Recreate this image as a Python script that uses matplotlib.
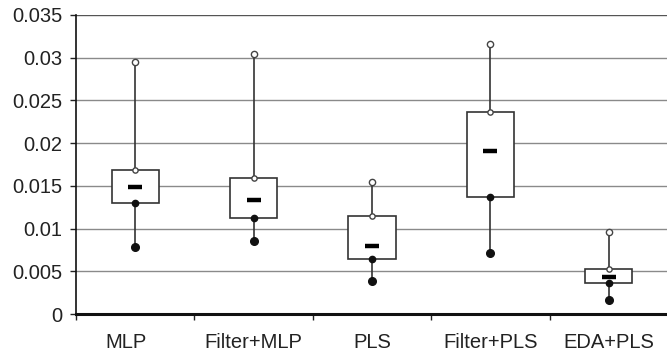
import matplotlib
matplotlib.use("Agg")
import matplotlib.pyplot as plt
import matplotlib.transforms as mtransforms
import numpy as np

categories = ["MLP", "Filter+MLP", "PLS", "Filter+PLS", "EDA+PLS"]
maxima = [0.0295, 0.0304, 0.0155, 0.0316, 0.0096]
q3 = [0.0169, 0.0159, 0.0115, 0.0236, 0.0053]
medians = [0.0149, 0.0133, 0.0080, 0.0191, 0.0043]
q1 = [0.0130, 0.0112, 0.0064, 0.0137, 0.0036]
minima = [0.0078, 0.0086, 0.0039, 0.0071, 0.0016]
yticks = [0, 0.005, 0.01, 0.015, 0.02, 0.025, 0.03, 0.035]
ytick_labels = ["0", "0.005", "0.01", "0.015", "0.02", "0.025", "0.03", "0.035"]

plt.rcParams['font.family'] = ['Liberation Sans', 'DejaVu Sans']

fig = plt.figure(figsize=(6.67, 3.59), dpi=100)
ax = fig.add_axes([76/667, 45/359, 592/667, 299/359])

positions = np.arange(len(categories))

# gridlines
for t in yticks[1:]:
    ax.axhline(t, color="#8a8a8a" if t < 0.035 else "#555555", lw=1.0, zorder=1)

stats = []
for i in range(len(categories)):
    stats.append(dict(med=medians[i], q1=q1[i], q3=q3[i],
                      whislo=minima[i], whishi=maxima[i], fliers=[], label=categories[i]))

ax.bxp(stats, positions=positions, widths=0.4, showcaps=False, showfliers=False,
       patch_artist=True,
       boxprops=dict(facecolor="white", edgecolor="#333333", linewidth=1.2),
       whiskerprops=dict(color="#333333", linewidth=1.2),
       medianprops=dict(linewidth=0), zorder=3)

# median dash
ax.plot(positions, medians, linestyle="none", marker="_", markersize=10,
        markeredgewidth=3.2, color="black", zorder=5)
# max open circles
ax.plot(positions, maxima, linestyle="none", marker="o", markersize=4.5,
        markerfacecolor="white", markeredgecolor="#444444", markeredgewidth=1.0, zorder=5)
# q3 open small markers
ax.plot(positions, q3, linestyle="none", marker="o", markersize=3.8,
        markerfacecolor="white", markeredgecolor="#444444", markeredgewidth=1.0, zorder=5)
# q1 filled small
ax.plot(positions, q1, linestyle="none", marker="o", markersize=4.5,
        color="#111111", zorder=5)
# min filled
ax.plot(positions, minima, linestyle="none", marker="o", markersize=5.5,
        color="#111111", zorder=5)

ax.set_xlim(-0.5, len(categories) - 0.5)
ax.set_ylim(0, 0.035)
ax.set_yticks(yticks)
ax.set_yticklabels(ytick_labels, fontsize=14.5, color="#222222")
ax.set_xticks(positions)
ax.set_xticklabels(categories, fontsize=14.5, color="#222222")
ax.tick_params(axis="x", which="major", length=0, pad=14)
ax.set_xticks(np.arange(-0.5, len(categories), 1.0), minor=True)
ax.tick_params(axis="x", which="minor", length=4, width=1, direction="out", color="#222222")
ax.tick_params(axis="y", length=4.3, width=1, pad=5.5, color="#222222")

# first label sits slightly left of its box in the reference
lbl = ax.get_xticklabels()[0]
lbl.set_transform(lbl.get_transform() + mtransforms.ScaledTranslation(-0.09, 0, fig.dpi_scale_trans))

for s in ["top", "right"]:
    ax.spines[s].set_visible(False)
ax.spines["left"].set_linewidth(1.2)
ax.spines["left"].set_color("#111111")
ax.spines["bottom"].set_linewidth(2.2)
ax.spines["bottom"].set_color("#111111")
ax.spines["left"].set_zorder(6)
ax.spines["bottom"].set_zorder(6)

fig.savefig("out.png", dpi=100)
